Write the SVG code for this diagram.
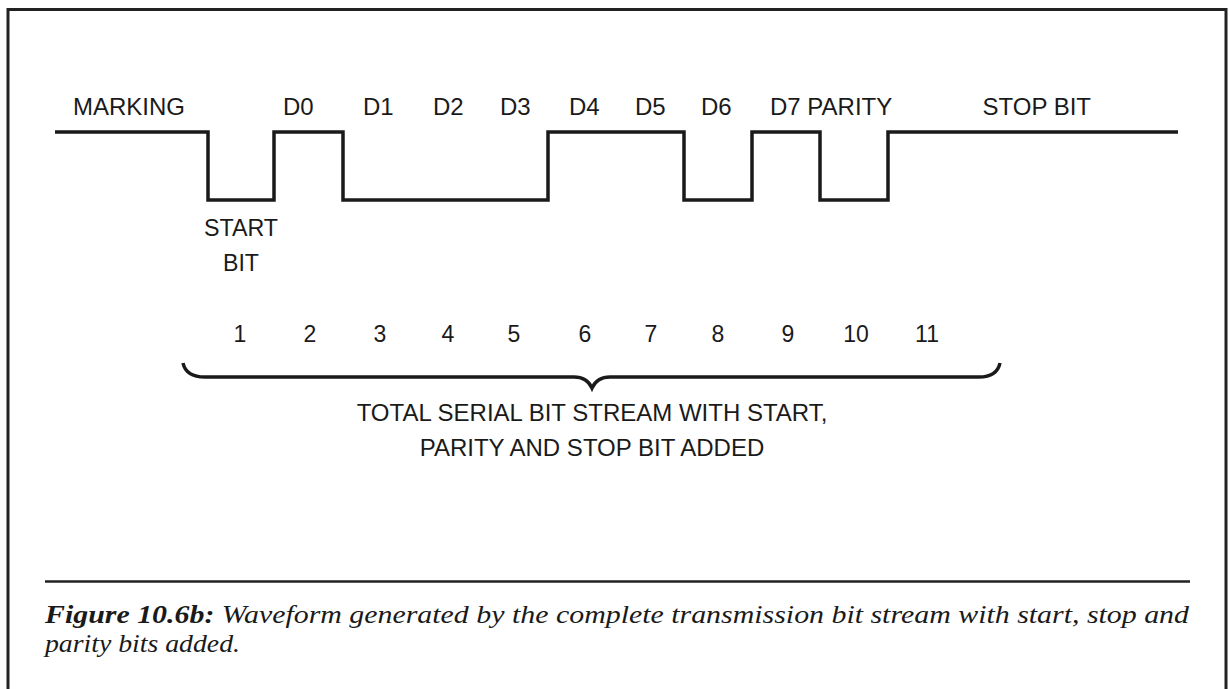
<svg xmlns="http://www.w3.org/2000/svg" width="1230" height="689" viewBox="0 0 1230 689">
<style>
.lbl{font-family:"Liberation Sans",Arial,sans-serif;font-size:24px;fill:#1a1a1a}
.num{font-family:"Liberation Sans",Arial,sans-serif;font-size:23px;fill:#1a1a1a;text-anchor:middle}
.wave{fill:none;stroke:#1a1a1a;stroke-width:3.5;stroke-linejoin:miter}
.cap{font-family:"Liberation Serif","Times New Roman",serif;font-size:26px;font-style:italic;fill:#1a1a1a}
</style>
<rect width="1230" height="689" fill="#ffffff"/>
<g id="frame">
<path d="M8,689 V9.5 H1226 V689" fill="none" stroke="#222" stroke-width="3"/>
<line x1="45" y1="581.5" x2="1190" y2="581.5" stroke="#222" stroke-width="2.5"/>
</g>
<g id="connectors">
<path id="waveform" class="wave" d="M55,132 H208 V200 H274 V132 H343 V200 H548 V132 H684 V200 H752 V132 H820 V200 H888 V132 H1178"/>
<path id="brace" class="wave" d="M183,363 Q186,377 205,377 H574 Q587,377 592,388 Q597,377 610,377 H979 Q997,377 1000,363"/>
</g>
<g id="labels">
<text class="lbl" x="73" y="115">MARKING</text>
<text class="lbl" x="283" y="115">D0</text>
<text class="lbl" x="363" y="115">D1</text>
<text class="lbl" x="433" y="115">D2</text>
<text class="lbl" x="500" y="115">D3</text>
<text class="lbl" x="569" y="115">D4</text>
<text class="lbl" x="635" y="115">D5</text>
<text class="lbl" x="701" y="115">D6</text>
<text class="lbl" x="770" y="115">D7 PARITY</text>
<text class="lbl" x="1091" y="115" text-anchor="end">STOP BIT</text>
<text class="lbl" x="204" y="236" textLength="74" lengthAdjust="spacingAndGlyphs">START</text>
<text class="lbl" x="223" y="271" textLength="36" lengthAdjust="spacingAndGlyphs">BIT</text>
</g>
<g id="numbers">
<text class="num" x="240" y="342">1</text>
<text class="num" x="310" y="342">2</text>
<text class="num" x="380" y="342">3</text>
<text class="num" x="448" y="342">4</text>
<text class="num" x="514" y="342">5</text>
<text class="num" x="585" y="342">6</text>
<text class="num" x="651" y="342">7</text>
<text class="num" x="718" y="342">8</text>
<text class="num" x="788" y="342">9</text>
<text class="num" x="856" y="342">10</text>
<text class="num" x="927" y="342">11</text>
</g>
<g id="brace-label">
<text class="lbl" x="592" y="421" text-anchor="middle" font-size="24.5">TOTAL SERIAL BIT STREAM WITH START,</text>
<text class="lbl" x="592" y="456" text-anchor="middle" font-size="24.5">PARITY AND STOP BIT ADDED</text>
</g>
<g id="caption">
<text class="cap" x="45" y="623" textLength="1144" lengthAdjust="spacingAndGlyphs"><tspan font-weight="bold">Figure 10.6b:</tspan> Waveform generated by the complete transmission bit stream with start, stop and</text>
<text class="cap" x="45" y="652" textLength="195" lengthAdjust="spacingAndGlyphs">parity bits added.</text>
</g>
</svg>
